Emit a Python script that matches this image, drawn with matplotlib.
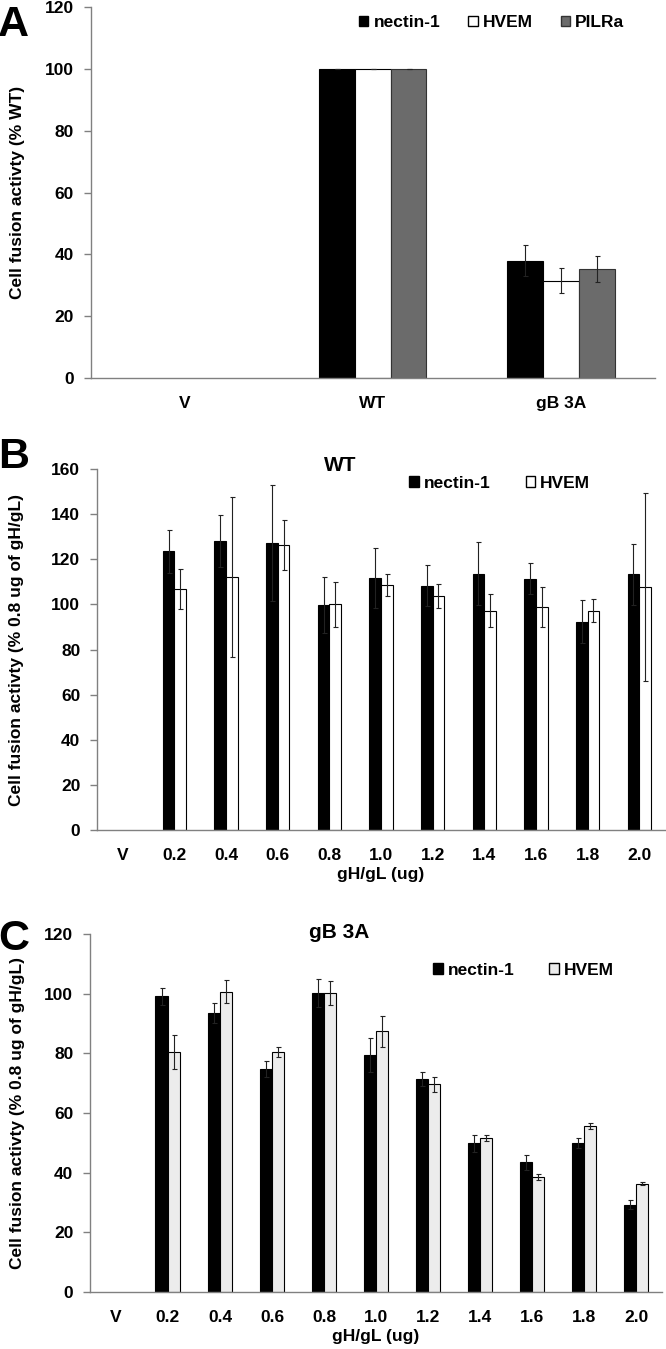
import numpy as np
import matplotlib
matplotlib.use("Agg")
import matplotlib.pyplot as plt
from matplotlib.patches import Patch

plt.rcParams['font.family'] = ['Liberation Sans', 'DejaVu Sans']
plt.rcParams['font.weight'] = 'bold'

# panel A
groups_a = ['V', 'WT', 'gB 3A']
nectin_a = [np.nan, 100, 38.0]
nectin_a_err = [np.nan, 0, 5.0]
hvem_a = [np.nan, 100, 31.5]
hvem_a_err = [np.nan, 0, 4.0]
pilra_a = [np.nan, 100, 35.2]
pilra_a_err = [np.nan, 0, 4.2]

# panels B and C
doses = ['V', '0.2', '0.4', '0.6', '0.8', '1.0', '1.2', '1.4', '1.6', '1.8', '2.0']
nectin_b = [np.nan, 123.6, 128.3, 127.1, 99.8, 111.8, 108.3, 113.6, 111.4, 92.3, 113.3]
nectin_b_err = [np.nan, 9.5, 11.5, 25.8, 12.5, 13.3, 9.0, 13.9, 6.8, 9.6, 13.4]
hvem_b = [np.nan, 106.9, 112.0, 126.4, 100.0, 108.6, 103.8, 97.3, 98.8, 97.3, 107.7]
hvem_b_err = [np.nan, 9.0, 35.5, 11.0, 10.0, 5.0, 5.3, 7.2, 9.0, 5.0, 41.7]

nectin_c = [np.nan, 99.1, 93.6, 74.9, 100.2, 79.4, 71.3, 49.8, 43.5, 50.0, 29.3]
nectin_c_err = [np.nan, 2.8, 3.3, 2.7, 4.7, 5.6, 2.4, 2.8, 2.5, 1.6, 1.4]
hvem_c = [np.nan, 80.4, 100.7, 80.4, 100.2, 87.4, 69.6, 51.5, 38.5, 55.7, 36.2]
hvem_c_err = [np.nan, 5.6, 3.9, 1.6, 3.9, 5.2, 2.4, 1.0, 1.0, 1.1, 0.5]

spine_col = '#808080'
err_kw = dict(ecolor='#222222', elinewidth=0.8, capsize=1.8, capthick=0.8)


def style_axis(ax, ymax, ylab, labx):
    ax.set_ylim(0, ymax)
    ax.set_yticks(np.arange(0, ymax + 1, 20))
    for s in ['top', 'right']:
        ax.spines[s].set_visible(False)
    for s in ['left', 'bottom']:
        ax.spines[s].set_color(spine_col)
        ax.spines[s].set_linewidth(1.0)
    ax.tick_params(axis='y', direction='out', length=5, width=1, color=spine_col,
                   labelsize=12.5, pad=7)
    ax.tick_params(axis='x', length=0, labelsize=12.5, pad=13)
    ax.set_ylabel(ylab, fontsize=12.5, fontweight='bold')
    ax.yaxis.set_label_coords(labx, 0.5)


fig = plt.figure(figsize=(6.66, 13.49), dpi=100)

# ---- A
axA = fig.add_axes([0.1362, 0.7198, 0.8473, 0.2748])
xa = np.arange(len(groups_a))
w = 0.19
axA.bar(xa - w, nectin_a, w, yerr=nectin_a_err, color='black', edgecolor='black', lw=0.8, error_kw=err_kw)
axA.bar(xa, hvem_a, w, yerr=hvem_a_err, color='white', edgecolor='black', lw=0.8, error_kw=err_kw)
axA.bar(xa + w, pilra_a, w, yerr=pilra_a_err, color='#6b6b6b', edgecolor='#333333', lw=0.8, error_kw=err_kw)
axA.set_xlim(-0.5, len(groups_a) - 0.5)
axA.set_xticks(xa)
axA.set_xticklabels(groups_a)
style_axis(axA, 120, 'Cell fusion activty (% WT)', -0.116)
hA = [Patch(facecolor='black', edgecolor='black'),
      Patch(facecolor='white', edgecolor='black'),
      Patch(facecolor='#6b6b6b', edgecolor='#333333')]
axA.legend(hA, ['nectin-1', 'HVEM', 'PILRa'], ncol=3, frameon=False, loc='center left',
           bbox_to_anchor=(0.475, 0.958), fontsize=12.5, handlelength=0.55, handleheight=0.55,
           handletextpad=0.3, columnspacing=1.6, borderpad=0, borderaxespad=0)
fig.text(-0.003, 0.996, 'A', fontsize=31, fontweight='bold', va='top', ha='left')

# ---- B
axB = fig.add_axes([0.1456, 0.3847, 0.8529, 0.2676])
xb = np.arange(len(doses))
w = 0.225
axB.bar(xb - w / 2, nectin_b, w, yerr=nectin_b_err, color='black', edgecolor='black', lw=0.8, error_kw=err_kw)
axB.bar(xb + w / 2, hvem_b, w, yerr=hvem_b_err, color='white', edgecolor='black', lw=0.8, error_kw=err_kw)
axB.set_xlim(-0.5, len(doses) - 0.5)
axB.set_xticks(xb)
axB.set_xticklabels(doses)
style_axis(axB, 160, 'Cell fusion activty (% 0.8 ug of gH/gL)', -0.128)
axB.set_xlabel('gH/gL (ug)', fontsize=12.5, fontweight='bold', labelpad=3)
axB.text(0.429, 1.011, 'WT', transform=axB.transAxes, ha='center', va='center',
         fontsize=15, fontweight='bold')
hB = [Patch(facecolor='black', edgecolor='black'), Patch(facecolor='white', edgecolor='black')]
axB.legend(hB, ['nectin-1', 'HVEM'], ncol=2, frameon=False, loc='center left',
           bbox_to_anchor=(0.55, 0.961), fontsize=12.5, handlelength=0.55, handleheight=0.55,
           handletextpad=0.3, columnspacing=2.0, borderpad=0, borderaxespad=0)
fig.text(-0.003, 1 - 437 / 1349, 'B', fontsize=31, fontweight='bold', va='top', ha='left')

# ---- C
axC = fig.add_axes([0.1351, 0.0423, 0.8589, 0.2653])
w = 0.24
axC.bar(xb - w / 2, nectin_c, w, yerr=nectin_c_err, color='black', edgecolor='black', lw=0.8, error_kw=err_kw)
axC.bar(xb + w / 2, hvem_c, w, yerr=hvem_c_err, color='#ececec', edgecolor='black', lw=0.8, error_kw=err_kw)
axC.set_xlim(-0.5, len(doses) - 0.5)
axC.set_xticks(xb)
axC.set_xticklabels(doses)
style_axis(axC, 120, 'Cell fusion activty (% 0.8 ug of gH/gL)', -0.114)
axC.set_xlabel('gH/gL (ug)', fontsize=12.5, fontweight='bold', labelpad=3)
axC.text(0.435, 1.003, 'gB 3A', transform=axC.transAxes, ha='center', va='center',
         fontsize=15, fontweight='bold')
hC = [Patch(facecolor='black', edgecolor='black'), Patch(facecolor='#ececec', edgecolor='black')]
axC.legend(hC, ['nectin-1', 'HVEM'], ncol=2, frameon=False, loc='center left',
           bbox_to_anchor=(0.60, 0.899), fontsize=12.5, handlelength=0.55, handleheight=0.55,
           handletextpad=0.3, columnspacing=2.0, borderpad=0, borderaxespad=0)
fig.text(-0.003, 1 - 919 / 1349, 'C', fontsize=31, fontweight='bold', va='top', ha='left')

fig.savefig('out.png', dpi=100)
